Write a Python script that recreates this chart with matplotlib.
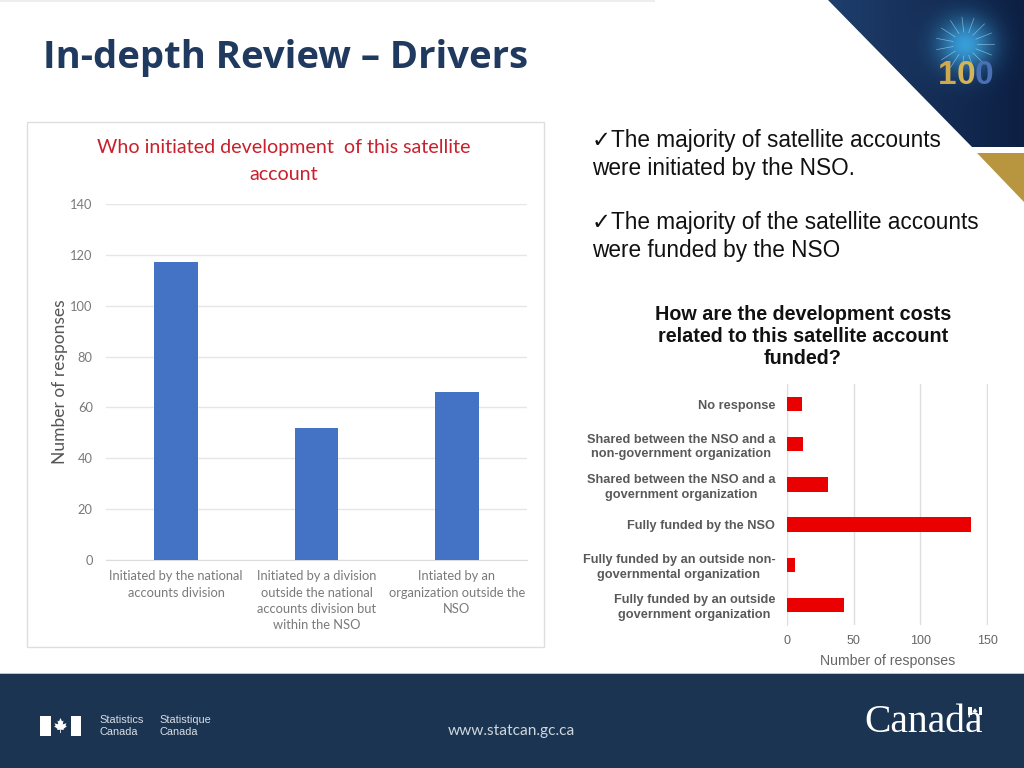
import numpy as np
import matplotlib
matplotlib.use("Agg")
import matplotlib.pyplot as plt
from matplotlib.patches import Polygon, Rectangle

# left chart
init_labels = ["Initiated by the national\naccounts division",
               "Initiated by a division\noutside the national\naccounts division but\nwithin the NSO",
               "Intiated by an\norganization outside the\nNSO"]
init_values = [117, 52, 66]
init_ticks = [0, 20, 40, 60, 80, 100, 120, 140]

# right chart
fund_labels = ["No response",
               "Shared between the NSO and a\nnon-government organization",
               "Shared between the NSO and a\ngovernment organization",
               "Fully funded by the NSO",
               "Fully funded by an outside non-\ngovernmental organization",
               "Fully funded by an outside\ngovernment organization"]
fund_values = [11, 12, 31, 138, 6, 43]
fund_ticks = [0, 50, 100, 150]

W, H = 1024, 768
NAVY = "#1a3452"
BODY = ["Liberation Sans", "DejaVu Sans"]
LEAF = [(0, -1), (.2, -.55), (.4, -.65), (.3, -.15), (.8, -.3), (.65, 0), (.85, .1), (.4, .45),
        (.45, .6), (.05, .55), (.05, 1), (-.05, 1), (-.05, .55), (-.45, .6), (-.4, .45), (-.85, .1),
        (-.65, 0), (-.8, -.3), (-.3, -.15), (-.4, -.65), (-.2, -.55)]


def px_axes(fig, left, top, right, bottom):
    # axes placed by pixel box, y measured from the top of the slide
    return fig.add_axes([left / W, 1 - bottom / H, (right - left) / W, (bottom - top) / H])


def leaf(ax, cx, cy, size):
    pts = [(cx + x * size, cy + y * size) for x, y in LEAF]
    ax.add_patch(Polygon(pts, closed=True, fc="white", ec="none"))


fig = plt.figure(figsize=(10.24, 7.68), dpi=100, facecolor="white")

# slide background in pixel coordinates
bg = fig.add_axes([0, 0, 1, 1])
bg.set_xlim(0, W)
bg.set_ylim(H, 0)
bg.axis("off")

bg.add_patch(Rectangle((0, 0), 655, 1.5, color="#eeeeee", lw=0))
bg.add_patch(Rectangle((0, 674), W, 94, color=NAVY, lw=0))
bg.add_patch(Rectangle((0, 672.5), W, 1.5, color="#b9c6d0", lw=0))

# corner triangle with the glow behind the 100 logo
xx, yy = np.meshgrid(np.arange(820, W), np.arange(0, 150))
dist = np.hypot(xx - 965, (yy - 44) * 1.05)
glow = np.exp(-(dist / 27) ** 2)[..., None]
fade = ((xx - 820) / 204.0)[..., None]
base = np.array([0.12, 0.25, 0.43]) * (1 - fade) + np.array([0.05, 0.12, 0.26]) * fade
img = base * (1 - glow) + np.array([0.22, 0.62, 0.85]) * glow
im = bg.imshow(img, extent=(820, W, 150, 0), aspect="auto", zorder=1)
tri = Polygon([(828, 0), (W, 0), (W, 147), (972, 147)], closed=True, transform=bg.transData,
              fc="none", ec="none")
bg.add_patch(tri)
im.set_clip_path(tri)
bg.set_xlim(0, W)
bg.set_ylim(H, 0)
for ang in np.arange(0, 360, 24):
    a = np.deg2rad(ang)
    bg.plot([965 + 12 * np.cos(a), 965 + 29 * np.cos(a)], [44 + 12 * np.sin(a), 44 + 27 * np.sin(a)],
            color="#cfeefb", lw=0.5, alpha=0.55, zorder=2)
for x, ch, col in [(947, "1", "#d1a94c"), (965.5, "0", "#d3b35c"), (984, "0", "#4a6fb5")]:
    bg.text(x, 76, ch, color=col, fontsize=24, fontweight="bold", family="Liberation Sans",
            ha="center", va="center", zorder=3)
bg.add_patch(Polygon([(977, 153), (W, 153), (W, 202)], closed=True, fc="#b8953f", ec="none"))

# title and bullets
bg.text(43, 58, "In-depth Review – Drivers", color="#20395f", fontsize=27.5, fontweight="bold",
        family="Open Sans", ha="left", va="center")
bg.text(592, 141, "✓The majority of satellite accounts", fontsize=16.3, family=BODY, color="#111111",
        va="center")
bg.text(592, 168, "were initiated by the NSO.", fontsize=16.3, family=BODY, color="#111111", va="center")
bg.text(592, 223, "✓The majority of the satellite accounts", fontsize=16.3, family=BODY, color="#111111",
        va="center")
bg.text(592, 250, "were funded by the NSO", fontsize=16.3, family=BODY, color="#111111", va="center")
bg.text(803, 336, "How are the development costs\nrelated to this satellite account\nfunded?",
        fontsize=14.2, fontweight="bold", family=BODY, color="#111111", ha="center", va="center",
        linespacing=1.2)

# panel round the left chart
bg.add_patch(Rectangle((26.5, 121.5), 517, 525, fc="white", ec="#dedede", lw=1))
bg.text(284, 147, "Who initiated development  of this satellite", color="#c8202c", fontsize=14.1,
        family="Lato", ha="center", va="center")
bg.text(284, 174, "account", color="#c8202c", fontsize=14.1, family="Lato", ha="center", va="center")

# footer
bg.add_patch(Rectangle((40, 716), 10.5, 20, color="white", lw=0))
bg.add_patch(Rectangle((70.5, 716), 10.5, 20, color="white", lw=0))
leaf(bg, 60.5, 725.5, 7.5)
bg.text(99, 726, "Statistics\nCanada", color="#d8dee4", fontsize=7.9, family="Liberation Sans",
        va="center", linespacing=1.15)
bg.text(159.5, 726, "Statistique\nCanada", color="#d8dee4", fontsize=7.9, family="Liberation Sans",
        va="center", linespacing=1.15)
bg.text(448, 731.5, "www.statcan.gc.ca", color="#cfd6dc", fontsize=11.2, family="Lato", va="center")
bg.text(864, 722, "Canada", color="white", fontsize=28.5, family="Liberation Serif", va="center")
bg.add_patch(Rectangle((968, 707), 3.5, 8, color="white", lw=0))
bg.add_patch(Rectangle((978.5, 707), 3.5, 8, color="white", lw=0))
leaf(bg, 975, 711, 3)

# left bar chart
ax1 = px_axes(fig, 106, 204, 527, 560)
ax1.set_facecolor("none")
ax1.bar(range(len(init_values)), init_values, width=0.31, color="#4472c4", zorder=3)
ax1.set_xlim(-0.5, 2.5)
ax1.set_ylim(0, 140)
ax1.set_yticks(init_ticks)
ax1.set_xticks(range(len(init_labels)))
ax1.set_xticklabels(init_labels, fontsize=9.3, family="Lato", color="#7a7a7a", linespacing=1.43, va="top")
ax1.tick_params(axis="y", labelsize=9.3, labelcolor="#7a7a7a", length=0, pad=9.5)
ax1.tick_params(axis="x", length=0, pad=7.5)
for lab in ax1.get_yticklabels():
    lab.set_family("Lato")
ax1.grid(axis="y", color="#e6e6e6", lw=1, zorder=0)
ax1.set_axisbelow(True)
for s in ["top", "right", "left"]:
    ax1.spines[s].set_visible(False)
ax1.spines["bottom"].set_color("#dcdcdc")
ax1.set_ylabel("Number of responses", fontsize=12.5, family="Lato", color="#555555")
ax1.yaxis.set_label_coords(-0.09, 0.5)

# right bar chart
ax2 = px_axes(fig, 787, 384, 988, 625)
ax2.set_facecolor("none")
pos = np.arange(len(fund_values))
ax2.barh(pos, fund_values, height=0.36, color="#ea0000", zorder=3)
ax2.set_ylim(len(fund_values) - 0.5, -0.5)
ax2.set_xlim(0, 150.7)
ax2.set_xticks(fund_ticks)
ax2.set_yticks(pos)
ax2.set_yticklabels(fund_labels, fontsize=9.2, fontweight="bold", family="Liberation Sans", color="#595959",
                    multialignment="center", linespacing=1.3)
ax2.tick_params(axis="y", length=0, pad=8.5)
ax2.tick_params(axis="x", length=0, pad=7.5, labelsize=9, labelcolor="#666666")
for lab in ax2.get_xticklabels():
    lab.set_family("Liberation Sans")
ax2.grid(axis="x", color="#dedede", lw=1, zorder=0)
ax2.set_axisbelow(True)
for s in ["top", "right", "bottom"]:
    ax2.spines[s].set_visible(False)
ax2.spines["left"].set_color("#dedede")
ax2.set_xlabel("Number of responses", fontsize=10.2, family="Liberation Sans", color="#666666", labelpad=5)

fig.savefig("out.png", dpi=100)
